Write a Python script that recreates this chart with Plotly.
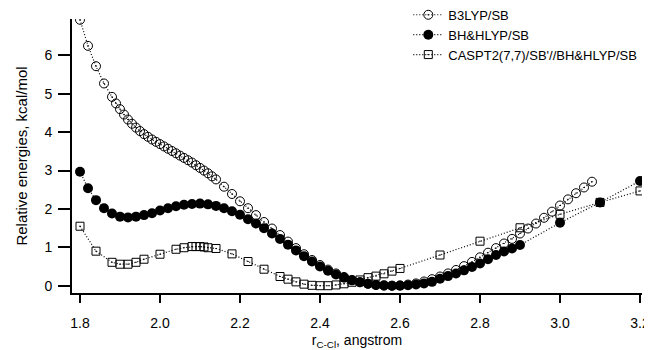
import plotly.graph_objects as go

# B3LYP/SB (open circles)
b3_x = [1.80, 1.82, 1.84, 1.86,
        1.88, 1.89, 1.90, 1.91, 1.92, 1.93, 1.94, 1.95, 1.96, 1.97, 1.98, 1.99,
        2.00, 2.01, 2.02, 2.03, 2.04, 2.05, 2.06, 2.07, 2.08, 2.09, 2.10, 2.11,
        2.12, 2.13, 2.14,
        2.16, 2.18, 2.20, 2.22, 2.24, 2.26, 2.28, 2.30, 2.32, 2.34, 2.36, 2.38,
        2.40, 2.42, 2.44, 2.46, 2.48, 2.50, 2.52, 2.54, 2.56, 2.58, 2.60, 2.62,
        2.64, 2.66, 2.68, 2.70, 2.72, 2.74, 2.76, 2.78, 2.80, 2.82, 2.84, 2.86,
        2.88, 2.90, 2.92, 2.94, 2.96, 2.98, 3.00, 3.02, 3.04, 3.06, 3.08]
b3_y = [6.93, 6.25, 5.72, 5.27,
        4.92, 4.75, 4.60, 4.46, 4.33, 4.22, 4.12, 4.03, 3.95, 3.88, 3.81, 3.75,
        3.69, 3.63, 3.57, 3.51, 3.45, 3.39, 3.33, 3.27, 3.21, 3.14, 3.07, 3.00,
        2.93, 2.85, 2.77,
        2.58, 2.39, 2.20, 2.02, 1.84, 1.66, 1.49, 1.32, 1.15, 0.98, 0.82, 0.67,
        0.54, 0.42, 0.32, 0.23, 0.15, 0.09, 0.05, 0.02, 0.00, 0.00, 0.01, 0.03,
        0.06, 0.11, 0.17, 0.24, 0.32, 0.41, 0.51, 0.62, 0.74, 0.86, 0.98, 1.10,
        1.22, 1.36, 1.49, 1.62, 1.77, 1.93, 2.09, 2.25, 2.41, 2.56, 2.71]

# BH&HLYP/SB (filled circles)
bh_x = [1.80, 1.82, 1.84, 1.86, 1.88, 1.90, 1.92, 1.94, 1.96, 1.98, 2.00,
        2.02, 2.04, 2.06, 2.08, 2.10, 2.12, 2.14, 2.16, 2.18, 2.20, 2.22,
        2.24, 2.26, 2.28, 2.30, 2.32, 2.34, 2.36, 2.38, 2.40, 2.42, 2.44,
        2.46, 2.48, 2.50, 2.52, 2.54, 2.56, 2.58, 2.60, 2.62, 2.64, 2.66,
        2.68, 2.70, 2.72, 2.74, 2.76, 2.78, 2.80, 2.82, 2.84, 2.86, 2.88,
        2.90, 3.00, 3.10, 3.20]
bh_y = [2.97, 2.54, 2.23, 2.02, 1.88, 1.80, 1.78, 1.80, 1.84, 1.89, 1.96,
        2.02, 2.07, 2.11, 2.13, 2.14, 2.12, 2.08, 2.02, 1.94, 1.85, 1.73,
        1.62, 1.50, 1.36, 1.22, 1.07, 0.92, 0.77, 0.63, 0.50, 0.39, 0.29,
        0.21, 0.14, 0.09, 0.05, 0.02, 0.01, 0.00, 0.00, 0.01, 0.03, 0.06,
        0.10, 0.18, 0.25, 0.32, 0.40, 0.49, 0.58, 0.69, 0.80, 0.89, 0.97,
        1.06, 1.64, 2.17, 2.73]

# CASPT2(7,7)/SB'//BH&HLYP/SB (open squares)
cas_x = [1.80, 1.84, 1.88, 1.90, 1.92, 1.94, 1.96, 2.00, 2.04, 2.06, 2.08,
         2.09, 2.10, 2.11, 2.12, 2.14, 2.18, 2.22, 2.26, 2.30, 2.32, 2.34,
         2.36, 2.38, 2.40, 2.42, 2.44, 2.46, 2.48, 2.50, 2.52, 2.54, 2.56,
         2.58, 2.60, 2.70, 2.80, 2.90, 3.00, 3.10, 3.20]
cas_y = [1.55, 0.90, 0.61, 0.56, 0.56, 0.61, 0.69, 0.82, 0.95, 0.99, 1.02,
         1.02, 1.02, 1.01, 0.99, 0.97, 0.83, 0.63, 0.43, 0.24, 0.17, 0.10,
         0.04, 0.01, 0.00, 0.00, 0.02, 0.05, 0.09, 0.15, 0.21, 0.25, 0.31,
         0.38, 0.45, 0.80, 1.16, 1.51, 1.86, 2.17, 2.47]

x_ticks = [1.8, 2.0, 2.2, 2.4, 2.6, 2.8, 3.0, 3.2]
x_ticklabels = ["1.8", "2.0", "2.2", "2.4", "2.6", "2.8", "3.0", "3.2"]
y_ticks = [0, 1, 2, 3, 4, 5, 6]

FONT = "Arial, 'Liberation Sans', sans-serif"
line_style = dict(color="black", width=1.2, dash="1px,2px")

fig = go.Figure()
fig.add_trace(go.Scatter(
    x=b3_x, y=b3_y, mode="lines+markers", name="B3LYP/SB",
    line=line_style, legendrank=1,
    marker=dict(symbol="circle-open-dot", size=9, color="black",
                line=dict(width=1, color="black"))))
fig.add_trace(go.Scatter(
    x=bh_x, y=bh_y, mode="lines+markers", name="BH&HLYP/SB",
    line=line_style, legendrank=2,
    marker=dict(symbol="circle", size=10, color="black",
                line=dict(width=0, color="black"))))
fig.add_trace(go.Scatter(
    x=cas_x, y=cas_y, mode="lines+markers", name="CASPT2(7,7)/SB'//BH&HLYP/SB",
    line=line_style, legendrank=3,
    marker=dict(symbol="square-open-dot", size=8, color="black",
                line=dict(width=1, color="black"))))

# the page body adds an 8px offset; the figure is sized so the plot area
# lands at x 72..642 and y 19..293 in the 652x350 window
fig.update_layout(
    width=644, height=342,
    margin=dict(l=64, r=10, t=11, b=57, autoexpand=False),
    paper_bgcolor="white", plot_bgcolor="white",
    font=dict(family=FONT, size=14, color="black"),
    showlegend=True,
    legend=dict(x=0.59, y=1.07, xanchor="left", yanchor="top",
                bgcolor="rgba(0,0,0,0)", font=dict(size=13, family=FONT),
                tracegroupgap=0, itemwidth=30),
    xaxis=dict(range=[1.78, 3.205], tickvals=x_ticks, ticktext=x_ticklabels,
               automargin=False,
               showgrid=False, zeroline=False, showline=True, linecolor="black",
               linewidth=2, ticks="outside", ticklen=8, tickwidth=2,
               tickcolor="black", tickfont=dict(size=14), ticklabelstandoff=8,
               title=dict(text="r<sub>C-Cl</sub>, angstrom", font=dict(size=14), standoff=8)),
    yaxis=dict(range=[-0.19, 6.95], tickvals=y_ticks,
               automargin=False,
               showgrid=False, zeroline=False, showline=True, linecolor="black",
               linewidth=2, ticks="outside", ticklen=12, tickwidth=2,
               tickcolor="black", tickfont=dict(size=14), ticklabelstandoff=3,
               title=dict(text="Relative energies, kcal/mol", font=dict(size=15), standoff=13)),
)

fig.write_html("out.html")
